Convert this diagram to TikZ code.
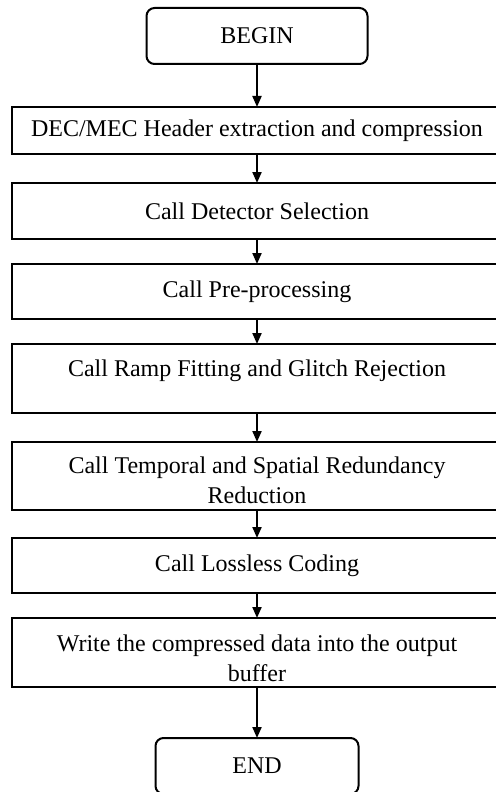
\documentclass[tikz,border=0pt]{standalone}
\usepackage{fontspec}
\setmainfont{Liberation Serif}
\usetikzlibrary{arrows.meta}
\begin{document}
\begin{tikzpicture}[x=0.5pt,y=-0.5pt,
  every node/.style={font=\fontsize{12}{15}\selectfont, align=center, inner sep=0pt, outer sep=0pt},
  procbox/.style={draw, line width=1pt, minimum width=245.5pt},
  termbox/.style={draw, line width=1pt, rounded corners=4pt, minimum height=28pt},
  arr/.style={line width=1pt, -{Triangle[length=5.5pt,width=4.5pt]}}]
\useasboundingbox (0,0) rectangle (496,792);
\node[termbox, minimum width=110.5pt] (begin) at (257,36) {BEGIN};
\node[procbox, minimum height=23.5pt] (hdr) at (257,130.5) {DEC/MEC Header extraction and compression};
\node[procbox, minimum height=28pt] (det) at (257,211) {Call Detector Selection};
\node[procbox, minimum height=27.5pt] (pre) at (257,291.5) {Call Pre-processing};
\node[procbox, minimum height=34.5pt] (ramp) at (257,378.5) {Call Ramp Fitting and Glitch Rejection\rule[-10.8pt]{0pt}{10.8pt}};
\node[procbox, minimum height=34pt] (temp) at (257,476) {\rule{0pt}{13pt}Call Temporal and Spatial Redundancy\\Reduction};
\node[procbox, minimum height=27.5pt] (loss) at (257,565.5) {Call Lossless Coding};
\node[procbox, minimum height=34.5pt] (write) at (257,652.5) {\rule{0pt}{14pt}Write the compressed data into the output\\buffer};
\node[termbox, minimum width=101.5pt] (end) at (257,766) {END};
\draw[arr] (begin) -- (hdr);
\draw[arr] (hdr) -- (det);
\draw[arr] (det) -- (pre);
\draw[arr] (pre) -- (ramp);
\draw[arr] (ramp) -- (temp);
\draw[arr] (temp) -- (loss);
\draw[arr] (loss) -- (write);
\draw[arr] (write) -- (end);
\end{tikzpicture}
\end{document}
